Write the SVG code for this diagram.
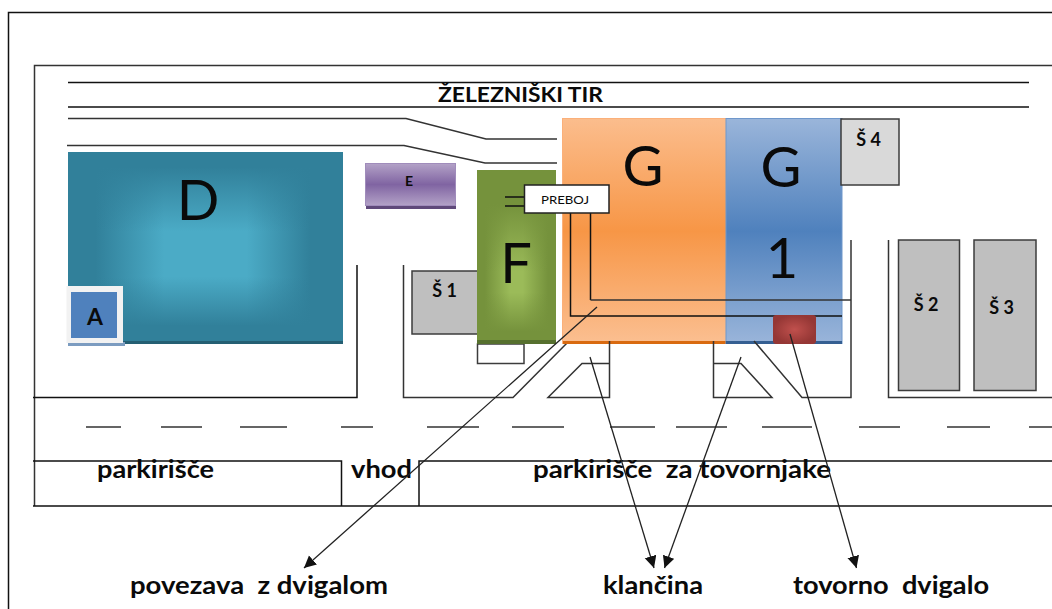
<svg xmlns="http://www.w3.org/2000/svg" width="1052" height="609" viewBox="0 0 1052 609">
<style>
.l{fill:none;stroke:#333;stroke-width:1.5}
.k{fill:none;stroke:#111;stroke-width:1.5}
.a{fill:none;stroke:#222;stroke-width:1.3;marker-end:url(#ah)}
.s{stroke:#3c3c3c;stroke-width:1.5}
text{font-family:Lato,"Liberation Sans",sans-serif;fill:#0a0a0a;text-anchor:middle}
.big{font-size:56px;font-weight:400}
.sm{font-size:18px;font-weight:700}
.lab{font-size:25px;font-weight:700;text-anchor:start}
</style>
<defs>
<marker id="ah" markerUnits="userSpaceOnUse" markerWidth="14" markerHeight="14" refX="12" refY="6" orient="auto"><path d="M0 0L12 6L0 12Z" fill="#111"/></marker>
<linearGradient id="gor" x1="0" y1="0" x2="0" y2="1"><stop offset="0" stop-color="#fbbd8d"/><stop offset=".5" stop-color="#f79646"/><stop offset="1" stop-color="#fbbf91"/></linearGradient>
<linearGradient id="gbl" x1="0" y1="0" x2="0" y2="1"><stop offset="0" stop-color="#9ab5da"/><stop offset=".5" stop-color="#4f81bd"/><stop offset="1" stop-color="#9ab5da"/></linearGradient>
<linearGradient id="gpu" x1="0" y1="0" x2="0" y2="1"><stop offset="0" stop-color="#b3a2c7"/><stop offset=".5" stop-color="#8064a2"/><stop offset="1" stop-color="#b3a2c7"/></linearGradient>
<linearGradient id="dh" x1="0" y1="0" x2="1" y2="0"><stop offset="0" stop-color="#31809a"/><stop offset=".1" stop-color="#31809a"/><stop offset=".35" stop-color="#31809a" stop-opacity="0"/><stop offset=".65" stop-color="#31809a" stop-opacity="0"/><stop offset=".88" stop-color="#31809a"/><stop offset="1" stop-color="#31809a"/></linearGradient>
<linearGradient id="dv" x1="0" y1="0" x2="0" y2="1"><stop offset="0" stop-color="#31809a"/><stop offset=".08" stop-color="#31809a"/><stop offset=".42" stop-color="#31809a" stop-opacity="0"/><stop offset=".66" stop-color="#31809a" stop-opacity="0"/><stop offset=".92" stop-color="#31809a"/><stop offset="1" stop-color="#31809a"/></linearGradient>
<linearGradient id="fh" x1="0" y1="0" x2="1" y2="0"><stop offset="0" stop-color="#75923c"/><stop offset=".1" stop-color="#75923c"/><stop offset=".42" stop-color="#75923c" stop-opacity="0"/><stop offset=".58" stop-color="#75923c" stop-opacity="0"/><stop offset=".9" stop-color="#75923c"/><stop offset="1" stop-color="#75923c"/></linearGradient>
<linearGradient id="fv" x1="0" y1="0" x2="0" y2="1"><stop offset="0" stop-color="#75923c"/><stop offset=".2" stop-color="#75923c"/><stop offset=".6" stop-color="#75923c" stop-opacity="0"/><stop offset=".72" stop-color="#75923c" stop-opacity="0"/><stop offset=".95" stop-color="#75923c"/><stop offset="1" stop-color="#75923c"/></linearGradient>
<radialGradient id="rd"><stop offset="0" stop-color="#c0504d"/><stop offset="1" stop-color="#953735"/></radialGradient>
</defs>
<rect width="1052" height="609" fill="#fff"/>
<g id="frame">
<path class="k" d="M1052 12.500H8.500V609"/>
<path class="l" d="M1052 65.500H34.500V506"/>
<path class="k" d="M68 82.500H1029M68 107H1029"/>
<path class="l" d="M68 118.500H406L486 139H557M67 145.500H404L485 163H557"/>
<path class="k" d="M33 397.500H357V265M33 461H341.500V505.500M33 506H1052M419 505.500V461H1052"/>
<path class="l" d="M403.500 265V397.500H513L569 341"/>
<path class="l" d="M86 427H121M161 427H202M240 427H287M341 427H373M427 427H479M512 427H564M610 427H655M676 427H727M762 427H812M859 427H900M947 427H990M1029 427H1052"/>
</g>
<g id="node-D">
<rect x="68" y="152" width="275" height="192" fill="#255f73"/>
<rect x="68" y="152" width="275" height="189" fill="#4babc6"/>
<rect x="68" y="152" width="275" height="189" fill="url(#dh)"/>
<rect x="68" y="152" width="275" height="189" fill="url(#dv)"/>
<text class="big" x="198" y="220">D</text>
</g>
<g id="node-A">
<rect x="68" y="342" width="57" height="4" fill="#7c9cc0"/>
<rect x="66.500" y="286" width="56.500" height="57" fill="#f2f2f2"/>
<rect x="71" y="292" width="46" height="46" fill="#4f81bd"/>
<text x="95" y="325" style="font-size:23px;font-weight:700">A</text>
</g>
<g id="node-E">
<rect x="366" y="164" width="90" height="45" fill="#5f497a"/>
<rect x="365.500" y="163.500" width="90" height="42" fill="url(#gpu)" stroke="#a08cbb"/>
<text x="409" y="186" style="font-size:14px;font-weight:700">E</text>
</g>
<g id="node-S1">
<rect x="412" y="271" width="68" height="63" fill="#bfbfbf" class="s"/>
<text class="sm" x="444.500" y="297">Š 1</text>
</g>
<g id="node-F">
<rect x="477.500" y="344" width="46.500" height="19.500" fill="#fff" class="s"/>
<rect x="477" y="170" width="79" height="174" fill="#56702e"/>
<rect x="477" y="170" width="79" height="170" fill="#9bbb59"/>
<rect x="477" y="170" width="79" height="170" fill="url(#fh)"/>
<rect x="477" y="170" width="79" height="170" fill="url(#fv)"/>
<text class="big" x="516" y="283">F</text>
</g>
<g id="node-G">
<rect x="562.500" y="118.500" width="164" height="225" fill="url(#gor)" stroke="#fbb07a"/>
<rect x="563" y="341" width="163" height="3" fill="#d96a10"/>
<text class="big" x="643" y="186">G</text>
</g>
<g id="node-G1">
<rect x="726" y="118.500" width="116" height="225" fill="url(#gbl)" stroke="#6f97cb"/>
<rect x="726" y="341" width="116" height="3" fill="#355f92"/>
<text class="big" x="781" y="187">G</text>
<text class="big" x="782" y="278">1</text>
</g>
<g id="node-S4">
<rect x="841" y="119" width="58" height="66" fill="#d9d9d9" class="s"/>
<text class="sm" x="868.500" y="146">Š 4</text>
</g>
<g id="node-S2">
<rect x="898.500" y="240" width="61" height="150.500" fill="#bfbfbf" class="s"/>
<text class="sm" x="926" y="311">Š 2</text>
</g>
<g id="node-S3">
<rect x="974" y="240" width="62" height="150.500" fill="#bfbfbf" class="s"/>
<text class="sm" x="1001.500" y="314">Š 3</text>
</g>
<g id="lines">
<path class="k" d="M570.500 213V316H842M590.500 213V300"/>
<path class="l" d="M590.500 300H851"/>
<path class="k" d="M505 197H524M505 206H524"/>
<path class="l" d="M851 240V397.500H802L754 341M888.500 240V397.500H1052"/>
<path class="l" d="M609.500 341V397.500H548L582 363.500H609.500M713.500 341V397.500H772L741 363.500H713.500"/>
</g>
<g id="node-lift">
<rect x="773" y="315" width="43" height="29" rx="3" fill="url(#rd)"/>
</g>
<g id="node-PREBOJ">
<rect x="524.500" y="185" width="84.500" height="28" fill="#fff" stroke="#222" stroke-width="1.500"/>
<text x="565" y="204" textLength="48" lengthAdjust="spacingAndGlyphs" style="font-size:12px;font-weight:400">PREBOJ</text>
</g>
<g id="labels">
<text x="520.500" y="102" textLength="165" lengthAdjust="spacingAndGlyphs" style="font-size:21px;font-weight:700">ŽELEZNIŠKI TIR</text>
<text class="lab" x="97" y="478" textLength="117" lengthAdjust="spacingAndGlyphs">parkirišče</text>
<text class="lab" x="351" y="478" textLength="61" lengthAdjust="spacingAndGlyphs">vhod</text>
<text class="lab" x="533" y="478" textLength="298" lengthAdjust="spacingAndGlyphs" xml:space="preserve">parkirišče  za tovornjake</text>
<text class="lab" x="130" y="594" textLength="258" lengthAdjust="spacingAndGlyphs" xml:space="preserve">povezava  z dvigalom</text>
<text class="lab" x="603" y="594" textLength="100" lengthAdjust="spacingAndGlyphs">klančina</text>
<text class="lab" x="793" y="594" textLength="196" lengthAdjust="spacingAndGlyphs" xml:space="preserve">tovorno  dvigalo</text>
</g>
<g id="connectors">
<path class="a" d="M597 307L304 568"/>
<path class="a" d="M590 357L654 568"/>
<path class="a" d="M741 357L664.500 568"/>
<path class="a" d="M790 334L856.500 568"/>
</g>
</svg>
